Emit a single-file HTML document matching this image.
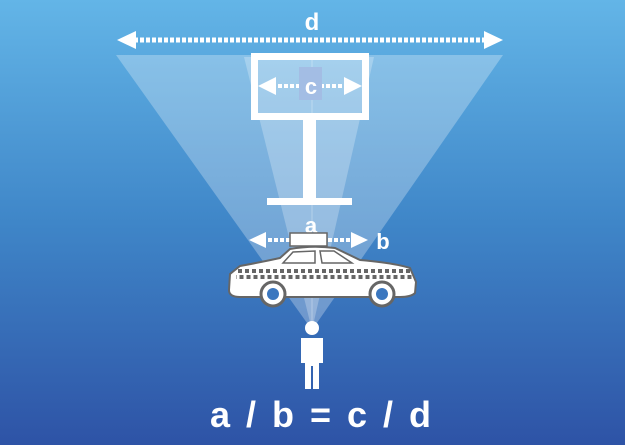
<!DOCTYPE html>
<html><head><meta charset="utf-8"><style>
html,body{margin:0;padding:0;width:625px;height:445px;overflow:hidden}
svg{display:block}
text{font-family:"Liberation Sans",sans-serif;font-weight:bold;fill:#fff}
</style></head><body>
<svg width="625" height="445" viewBox="0 0 625 445" xmlns="http://www.w3.org/2000/svg">
<defs>
<linearGradient id="bg" x1="0" y1="0" x2="0" y2="1">
<stop offset="0" stop-color="#63b5e7"/>
<stop offset="0.5" stop-color="#3f86c8"/>
<stop offset="1" stop-color="#2e53a6"/>
</linearGradient>
</defs>
<rect width="625" height="445" fill="url(#bg)"/>
<polygon points="116,55 503,55 312,330" fill="#fff" opacity="0.28"/>
<polygon points="244,57 374,57 312,330" fill="#fff" opacity="0.25"/>
<line x1="312" y1="60" x2="312" y2="330" stroke="#fff" stroke-width="1" opacity="0.3"/>
<line x1="134" y1="40" x2="486" y2="40" stroke="#fff" stroke-width="5" stroke-dasharray="4,2"/>
<polygon points="117,40 136,31 136,49" fill="#fff"/>
<polygon points="503,40 484,31 484,49" fill="#fff"/>
<text x="312" y="30" font-size="24" text-anchor="middle">d</text>
<rect x="254.5" y="56.5" width="111" height="60" fill="none" stroke="#fff" stroke-width="7"/>
<line x1="272" y1="86" x2="350" y2="86" stroke="#fff" stroke-width="4" stroke-dasharray="4,2"/>
<polygon points="258,86 276,77 276,95" fill="#fff"/>
<polygon points="362,86 344,77 344,95" fill="#fff"/>
<rect x="299" y="67" width="23" height="33" fill="#a3bde4"/>
<text x="311" y="94" font-size="22" text-anchor="middle">c</text>
<rect x="303" y="120" width="13" height="80" fill="#fff"/>
<rect x="267" y="198" width="85" height="7" fill="#fff"/>
<text x="311" y="233" font-size="22" text-anchor="middle">a</text>
<line x1="262" y1="240" x2="356" y2="240" stroke="#fff" stroke-width="4" stroke-dasharray="4,2"/>
<polygon points="249,240 266,232 266,248" fill="#fff"/>
<polygon points="368,240 351,232 351,248" fill="#fff"/>
<text x="383" y="249" font-size="22" text-anchor="middle">b</text>
<rect x="290" y="233" width="37" height="13" fill="#fff" stroke="#666" stroke-width="1.5"/>
<path d="M240,266 Q262,262 280,258 L290,249 Q312,245 335,248 L360,260 Q395,263 410,268 L416,282 L415,293 Q411,297 400,297 L240,297 Q229,297 229,290 L230,274 Z" fill="#fff" stroke="#666" stroke-width="2"/>
<path d="M283,263 L293,252 L315,251 L315,263 Z" fill="#fff" stroke="#666" stroke-width="1.5"/>
<path d="M320,251 L334,251 L352,263 L322,263 Z" fill="#fff" stroke="#666" stroke-width="1.5"/>
<line x1="238" y1="271" x2="410" y2="271" stroke="#666" stroke-width="4" stroke-dasharray="4,3"/>
<line x1="236" y1="277" x2="412" y2="277" stroke="#666" stroke-width="4" stroke-dasharray="4,3" stroke-dashoffset="3.5"/>
<circle cx="273" cy="294" r="12" fill="#fff" stroke="#666" stroke-width="3"/>
<circle cx="273" cy="294" r="6" fill="#3b77bf"/>
<circle cx="382" cy="294" r="12" fill="#fff" stroke="#666" stroke-width="3"/>
<circle cx="382" cy="294" r="6" fill="#3b77bf"/>
<circle cx="312" cy="328" r="7" fill="#fff"/>
<path d="M301,338 L323,338 L323,363 L319,363 L319,389 L313,389 L313,366 L311,366 L311,389 L305,389 L305,363 L301,363 Z" fill="#fff"/>
<text x="322" y="427" font-size="36" text-anchor="middle" letter-spacing="3">a / b = c / d</text>
</svg>
</body></html>
